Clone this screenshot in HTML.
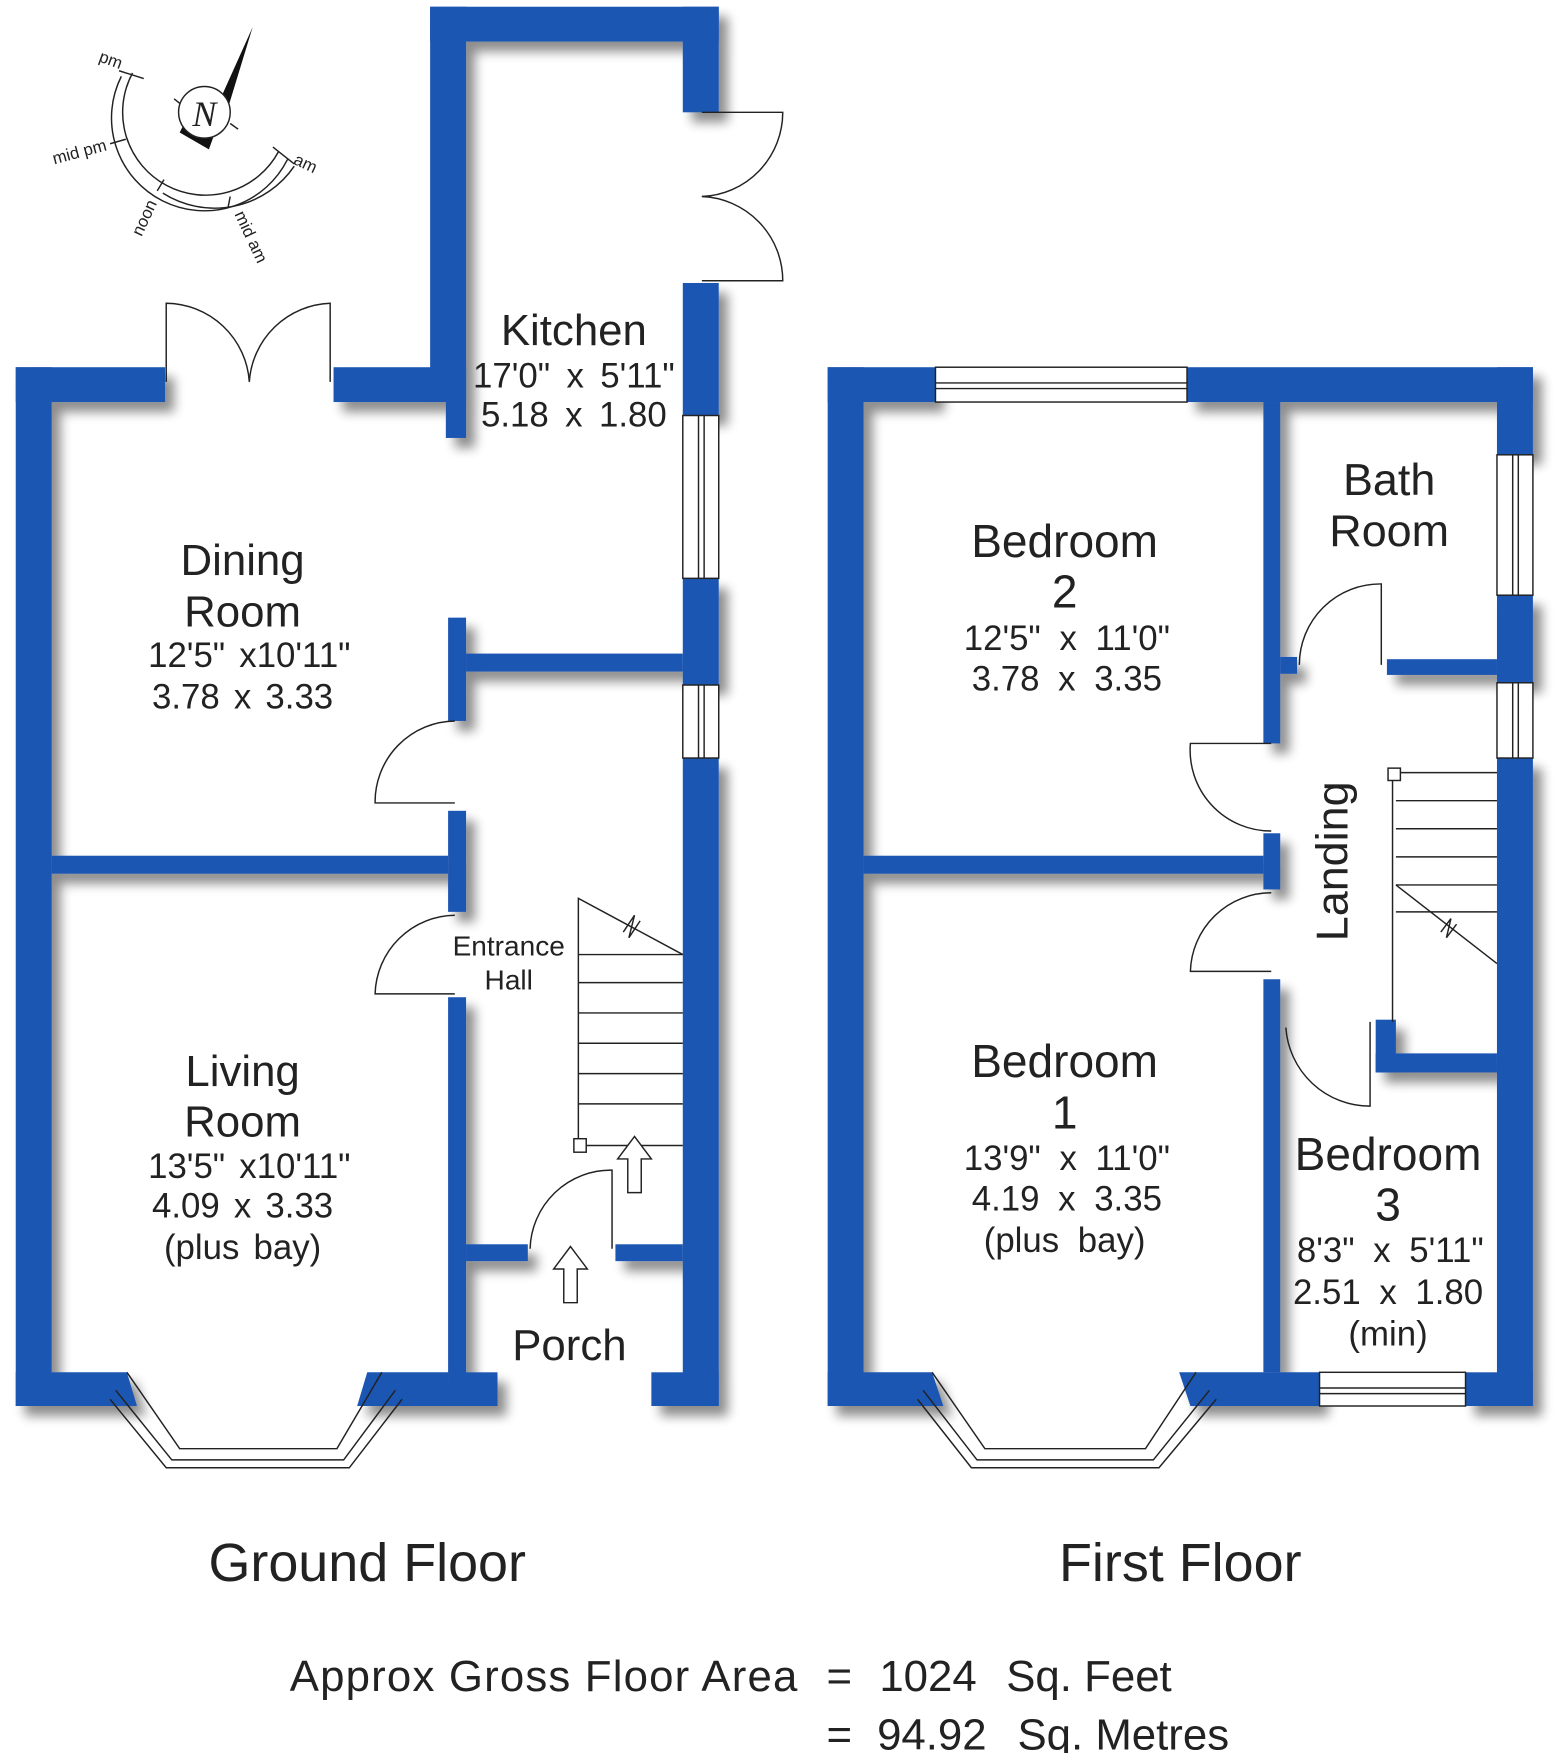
<!DOCTYPE html>
<html><head><meta charset="utf-8"><style>
html,body{margin:0;padding:0;background:#fff;}
svg{display:block;}
text{font-family:"Liberation Sans",sans-serif;fill:#222;text-anchor:middle;}
</style></head><body>
<svg width="1561" height="1753" viewBox="0 0 1390 1561" xmlns="http://www.w3.org/2000/svg">
<defs>
<filter id="sh" x="-10%" y="-10%" width="130%" height="130%">
<feGaussianBlur in="SourceAlpha" stdDeviation="5"/>
<feOffset dx="8" dy="9"/>
<feComponentTransfer><feFuncA type="linear" slope="0.45"/></feComponentTransfer>
<feMerge><feMergeNode/><feMergeNode in="SourceGraphic"/></feMerge>
</filter>
</defs>
<g fill="#1f57b3" filter="url(#sh)">
<!-- Ground floor -->
<rect x="383" y="6" width="257" height="31"/>
<rect x="383" y="6" width="32" height="352"/>
<rect x="397" y="327" width="18" height="63"/>
<rect x="608" y="6" width="32" height="94"/>
<rect x="608" y="252" width="32" height="118"/>
<rect x="608" y="515" width="32" height="95"/>
<rect x="608" y="675" width="32" height="577"/>
<rect x="580" y="1222" width="60" height="30"/>
<rect x="14" y="327" width="133" height="31"/>
<rect x="297" y="327" width="118" height="31"/>
<rect x="14" y="327" width="32" height="925"/>
<rect x="415" y="582" width="193" height="16"/>
<rect x="399" y="550" width="16" height="92"/>
<rect x="399" y="722" width="16" height="90"/>
<rect x="46" y="762" width="353" height="16"/>
<rect x="399" y="888" width="16" height="364"/>
<rect x="399" y="1222" width="44" height="30"/>
<rect x="415" y="1108" width="55" height="15"/>
<rect x="548" y="1108" width="60" height="15"/>
<polygon points="14,1222 113,1222 122,1252 14,1252"/>
<polygon points="327,1222 399,1222 399,1252 318,1252"/>
<!-- First floor -->
<rect x="737" y="327" width="96" height="31"/>
<rect x="1057" y="327" width="308" height="31"/>
<rect x="737" y="327" width="32" height="925"/>
<rect x="1333" y="327" width="32" height="78"/>
<rect x="1333" y="530" width="32" height="78"/>
<rect x="1333" y="675" width="32" height="577"/>
<rect x="1125" y="358" width="15" height="304"/>
<rect x="1140" y="585" width="15" height="15"/>
<rect x="1235" y="587" width="98" height="14"/>
<rect x="769" y="762" width="356" height="16"/>
<rect x="1125" y="742" width="15" height="50"/>
<rect x="1125" y="872" width="15" height="350"/>
<rect x="1225" y="908" width="18" height="47"/>
<rect x="1225" y="938" width="108" height="17"/>
<polygon points="737,1222 830,1222 840,1252 737,1252"/>
<polygon points="1050,1222 1175,1222 1175,1252 1060,1252"/>
<rect x="1305" y="1222" width="60" height="30"/>
</g>
<g fill="#fff" stroke="#222" stroke-width="1.3">
<rect x="608" y="370" width="32" height="145"/><line x1="622" y1="370" x2="622" y2="515"/><line x1="627" y1="370" x2="627" y2="515"/>
<rect x="608" y="610" width="32" height="65"/><line x1="622" y1="610" x2="622" y2="675"/><line x1="627" y1="610" x2="627" y2="675"/>
<rect x="833" y="327" width="224" height="31"/><line x1="833" y1="341" x2="1057" y2="341"/><line x1="833" y1="346" x2="1057" y2="346"/>
<rect x="1333" y="405" width="32" height="125"/><line x1="1347" y1="405" x2="1347" y2="530"/><line x1="1352" y1="405" x2="1352" y2="530"/>
<rect x="1333" y="608" width="32" height="67"/><line x1="1347" y1="608" x2="1347" y2="675"/><line x1="1352" y1="608" x2="1352" y2="675"/>
<rect x="1175" y="1222" width="130" height="30"/><line x1="1175" y1="1236" x2="1305" y2="1236"/><line x1="1175" y1="1241" x2="1305" y2="1241"/>
</g>
<g fill="none" stroke="#222" stroke-width="1.3">
<polyline points="113,1222 160,1290 300,1290 340,1222"/>
<polyline points="103,1238 153,1300 306,1300 352,1238"/>
<polyline points="98,1246 148,1307 311,1307 358,1246"/>
<polyline points="830,1222 877,1290 1020,1290 1065,1222"/>
<polyline points="822,1238 870,1300 1027,1300 1077,1238"/>
<polyline points="817,1246 865,1307 1032,1307 1083,1246"/>
<path d="M148,340 L148,270 A75,75 0 0 1 222,340"/>
<path d="M294,340 L294,270 A75,75 0 0 0 222,340"/>
<path d="M625,100 L697,100 A75,75 0 0 1 625,175"/>
<path d="M625,250 L697,250 A75,75 0 0 0 625,175"/>
<path d="M405,642 A72,72 0 0 0 334,715 L405,715"/>
<path d="M405,815 A72,72 0 0 0 334,885 L405,885"/>
<path d="M472,1112 A72,72 0 0 1 545,1042 L545,1112"/>
<path d="M1132,662 L1060,662 A72,72 0 0 0 1132,740"/>
<path d="M1132,795 A72,72 0 0 0 1060,865 L1132,865"/>
<path d="M1157,592 A72,72 0 0 1 1230,520 L1230,592"/>
<path d="M1145,915 A75,75 0 0 0 1220,985 L1220,910"/>
<polyline points="515,1022 515,800 608,850"/>
<path d="M555,830 L565,815 L560,835 L570,820" />
<line x1="515" y1="850" x2="608" y2="850"/><line x1="515" y1="875" x2="608" y2="875"/>
<line x1="515" y1="902" x2="608" y2="902"/><line x1="515" y1="929" x2="608" y2="929"/>
<line x1="515" y1="956" x2="608" y2="956"/><line x1="515" y1="983" x2="608" y2="983"/>
<line x1="515" y1="1020" x2="608" y2="1020"/>
<rect x="511" y="1014" width="11" height="12" fill="#fff"/>
<polygon points="565,1012 580,1032 571,1032 571,1062 559,1062 559,1032 550,1032" fill="#fff"/>
<polygon points="508,1110 523,1130 514,1130 514,1160 502,1160 502,1130 493,1130" fill="#fff"/>
<line x1="1240" y1="690" x2="1240" y2="910"/>
<line x1="1243" y1="688" x2="1333" y2="688"/>
<line x1="1243" y1="713" x2="1333" y2="713"/><line x1="1243" y1="738" x2="1333" y2="738"/>
<line x1="1243" y1="763" x2="1333" y2="763"/><line x1="1243" y1="788" x2="1333" y2="788"/>
<line x1="1243" y1="812" x2="1333" y2="812"/>
<line x1="1243" y1="788" x2="1333" y2="858"/>
<path d="M1283,830 L1292,818 L1288,835 L1297,823"/>
<rect x="1236" y="684" width="11" height="11" fill="#fff"/>
<!-- compass -->
<path d="M118,65 A72,72 0 0 0 248,135"/>
<path d="M108,68 A80,80 0 0 0 256,142"/>
<path d="M145,172 A86,86 0 0 0 262,148"/>
<line x1="106" y1="63" x2="128" y2="70"/>
<line x1="243" y1="131" x2="262" y2="146"/>
<line x1="98" y1="128" x2="112" y2="124"/>
<line x1="140" y1="170" x2="146" y2="160"/>
<line x1="205" y1="175" x2="203" y2="185"/>
<line x1="155" y1="88" x2="160" y2="92"/><line x1="205" y1="110" x2="212" y2="115"/>
</g>
<polygon points="225,24 190,102 200,106" fill="#111"/>
<polygon points="160,118 186,133 190,122 164,110" fill="#111"/>
<circle cx="182" cy="100" r="23" fill="#fff" stroke="#222" stroke-width="1.3"/>
<text x="182" y="112" style="font-family:'Liberation Serif',serif;font-style:italic;font-size:32px;">N</text>
<g style="font-size:15px">
<text x="97" y="58" transform="rotate(20 97 58)">pm</text>
<text x="72" y="140" transform="rotate(-15 72 140)">mid pm</text>
<text x="270" y="150" transform="rotate(25 270 150)">am</text>
<text x="133" y="196" transform="rotate(-65 133 196)">noon</text>
<text x="219" y="213" transform="rotate(65 219 213)">mid am</text>
</g>
<g style="font-size:39px"><text x="511" y="307">Kitchen</text></g>
<g style="font-size:31px;word-spacing:6px"><text x="511" y="345">17'0" x 5'11"</text><text x="511" y="380">5.18 x 1.80</text></g>
<g style="font-size:39px"><text x="216" y="512">Dining</text><text x="216" y="558">Room</text></g>
<g style="font-size:31px;word-spacing:4px"><text x="222" y="594">12'5" x10'11"</text><text x="216" y="631">3.78 x 3.33</text></g>
<g style="font-size:25px"><text x="453" y="851">Entrance</text><text x="453" y="881">Hall</text></g>
<g style="font-size:39px"><text x="216" y="967">Living</text><text x="216" y="1012">Room</text></g>
<g style="font-size:31px;word-spacing:4px"><text x="222" y="1049">13'5" x10'11"</text><text x="216" y="1084">4.09 x 3.33</text><text x="216" y="1121">(plus bay)</text></g>
<g style="font-size:39px"><text x="507" y="1211">Porch</text></g>
<g style="font-size:41px"><text x="948" y="496">Bedroom</text><text x="948" y="541">2</text></g>
<g style="font-size:31px;word-spacing:8px"><text x="950" y="579">12'5" x 11'0"</text><text x="950" y="615">3.78 x 3.35</text></g>
<g style="font-size:40px"><text x="1237" y="441">Bath</text><text x="1237" y="486">Room</text></g>
<text x="1187" y="767" transform="rotate(-90 1187 767)" style="font-size:40px" dy="13">Landing</text>
<g style="font-size:41px"><text x="948" y="959">Bedroom</text><text x="948" y="1005">1</text></g>
<g style="font-size:31px;word-spacing:8px"><text x="950" y="1042">13'9" x 11'0"</text><text x="950" y="1078">4.19 x 3.35</text><text x="948" y="1115">(plus bay)</text></g>
<g style="font-size:41px"><text x="1236" y="1042">Bedroom</text><text x="1236" y="1087">3</text></g>
<g style="font-size:31px;word-spacing:8px"><text x="1238" y="1124">8'3"  x 5'11"</text><text x="1236" y="1161">2.51 x 1.80</text><text x="1236" y="1198">(min)</text></g>
<g style="font-size:48px"><text x="327" y="1408">Ground Floor</text><text x="1051" y="1408">First Floor</text></g>
<g style="font-size:39px">
<text x="258" y="1506" style="text-anchor:start" textLength="452">Approx Gross Floor Area</text>
<text x="736" y="1506" style="text-anchor:start">=</text>
<text x="783" y="1506" style="text-anchor:start">1024</text>
<text x="896" y="1506" style="text-anchor:start">Sq. Feet</text>
<text x="736" y="1558" style="text-anchor:start">=</text>
<text x="781" y="1558" style="text-anchor:start">94.92</text>
<text x="906" y="1558" style="text-anchor:start">Sq. Metres</text>
</g>
</svg>
</body></html>
